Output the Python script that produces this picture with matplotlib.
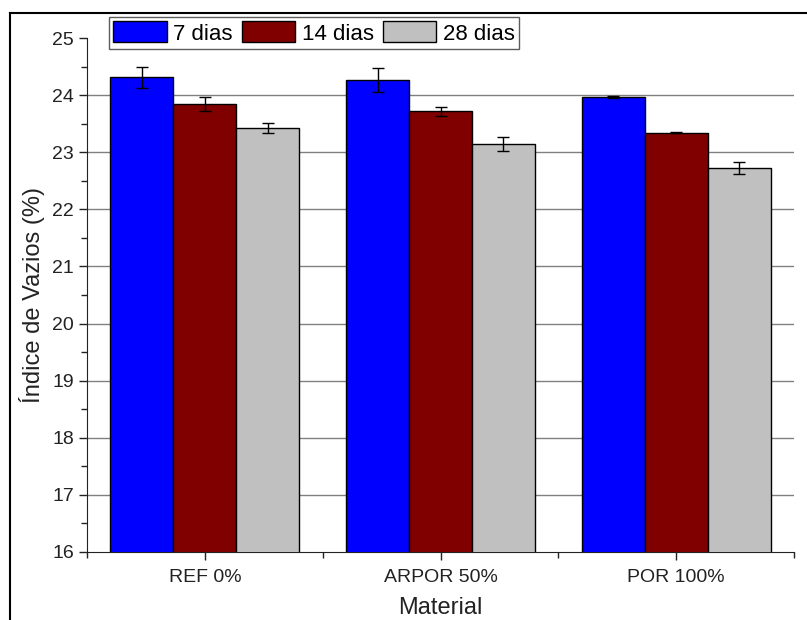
import numpy as np
import matplotlib.pyplot as plt
from matplotlib.lines import Line2D
from matplotlib.ticker import FixedLocator, MultipleLocator

plt.rcParams['font.family'] = ['Liberation Sans', 'DejaVu Sans']

materials = ['REF 0%', 'ARPOR 50%', 'POR 100%']
series = ['7 dias', '14 dias', '28 dias']
dias7 = [24.31, 24.27, 23.97]
dias14 = [23.85, 23.72, 23.34]
dias28 = [23.42, 23.14, 22.72]
err7 = [0.19, 0.21, 0.02]
err14 = [0.12, 0.08, 0.01]
err28 = [0.09, 0.12, 0.11]

values = [dias7, dias14, dias28]
errors = [err7, err14, err28]
colors = ['#0000FF', '#800000', '#C0C0C0']

fig = plt.figure(figsize=(8.07, 6.2), dpi=100)
ax = fig.add_axes([87/807, 1 - 552/620, (794 - 87)/807, (552 - 38)/620])

x = np.arange(len(materials))
w = 0.267
for i in range(3):
    ax.bar(x + (i - 1)*w, values[i], w, color=colors[i], edgecolor='black',
           linewidth=1, label=series[i], zorder=3,
           yerr=errors[i], capsize=4,
           error_kw=dict(ecolor='black', elinewidth=1, capthick=1, zorder=4))

ax.set_xlim(-0.5, 2.5)
ax.set_ylim(16, 25)
ax.set_xticks(x)
ax.set_xticklabels(materials)
ax.xaxis.set_minor_locator(FixedLocator([-0.5, 0.5, 1.5, 2.5]))
ax.yaxis.set_major_locator(MultipleLocator(1))
ax.yaxis.set_minor_locator(MultipleLocator(0.5))
ax.tick_params(axis='both', which='major', direction='out', length=6, width=1,
               labelsize=14, colors='#222222')
ax.tick_params(axis='x', which='major', pad=6)
ax.tick_params(axis='both', which='minor', direction='out', length=4, width=1,
               colors='#222222')
ax.spines['top'].set_visible(False)
ax.spines['right'].set_visible(False)
ax.spines['left'].set_color('#222222')
ax.spines['bottom'].set_color('#222222')
for yv in range(17, 25):
    ax.axhline(yv, color='#808080', linewidth=1, zorder=1)

ax.set_ylabel('Índice de Vazios (%)', fontsize=17, color='#222222', labelpad=5)
ax.set_xlabel('Material', fontsize=17, color='#222222', labelpad=8)

leg = fig.legend(loc='upper left', bbox_to_anchor=(109/807, 1 - 17/620), ncol=3,
                 fontsize=16, frameon=True, fancybox=False, edgecolor='#333333',
                 handlelength=2.4, handleheight=1.08, handletextpad=0.3,
                 columnspacing=0.4, borderpad=0.2, borderaxespad=0)
leg.get_frame().set_linewidth(1)

# outer frame of the picture
fig.add_artist(Line2D([10/807, 1], [1 - 13/620, 1 - 13/620], color='black', linewidth=1.5))
fig.add_artist(Line2D([10/807, 10/807], [0, 1 - 13/620], color='black', linewidth=1.5))

fig.savefig('out.png', dpi=100)
